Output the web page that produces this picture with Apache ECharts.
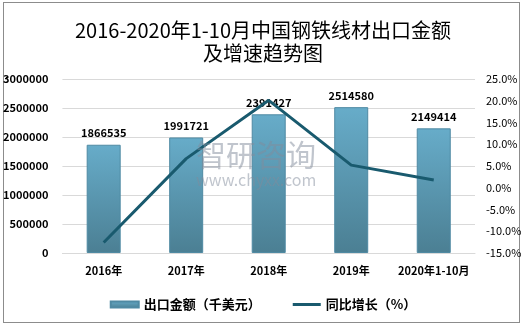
<!DOCTYPE html>
<html><head><meta charset="utf-8">
<script src="https://cdn.jsdelivr.net/npm/echarts@6/dist/echarts.min.js"></script>
<style>
html,body{margin:0;padding:0;background:#fff;}
#frame{position:absolute;left:3px;top:2px;width:515px;height:319px;border:1px solid #8c8c8c;}
#c{position:absolute;left:0;top:0;width:526px;height:329px;}
</style></head>
<body><div id="frame"></div><div id="c"></div>
<script>
const categories = ['2016年','2017年','2018年','2019年','2020年1-10月'];
const exportValues = [1866535, 1991721, 2391427, 2514580, 2149414];
const growthRates = [-12.6, 6.7, 20.1, 5.2, 1.8];
const titleText = '2016-2020年1-10月中国钢铁线材出口金额\n及增速趋势图';

const chart = echarts.init(document.getElementById('c'));
const font = '"Noto Sans CJK SC", "Noto Sans", sans-serif';
chart.setOption({
  animation:false,
  title:{text:titleText,left:'center',top:14,textStyle:{fontFamily:font,fontSize:20,fontWeight:'normal',color:'#000',lineHeight:23}},
  grid:{left:61,right:51,top:79,bottom:76,containLabel:false},
  legend:{bottom:13,left:'center',itemGap:32,itemWidth:28,itemHeight:6,
    textStyle:{fontFamily:font,fontSize:13,fontWeight:'bold',color:'#000'},
    data:[{name:'出口金额（千美元）',icon:'rect'},{name:'同比增长（%）',icon:'path://M0,0L28,0L28,3L0,3Z'}]},
  xAxis:{type:'category',data:categories,axisLine:{show:true,lineStyle:{color:'#d9d9d9'}},axisTick:{show:false},
    axisLabel:{interval:0,fontFamily:font,fontSize:11,fontWeight:'bold',color:'#000',margin:12}},
  yAxis:[
    {type:'value',min:0,max:3000000,interval:500000,splitLine:{lineStyle:{color:'#d9d9d9'}},
      axisLine:{show:false},axisTick:{show:false},
      axisLabel:{fontFamily:font,fontSize:11,fontWeight:'bold',color:'#000',margin:14,formatter:v=>String(v)}},
    {type:'value',min:-15,max:25,interval:5,splitLine:{show:false},axisLine:{show:false},axisTick:{show:false},
      axisLabel:{fontFamily:font,fontSize:11,color:'#000',margin:11,formatter:v=>v.toFixed(1)+'%'}}
  ],
  graphic:[
    {type:'text',left:196,top:140,z:100,style:{text:'智研咨询',font:'30px '+font,fill:'rgba(130,140,155,0.5)'}},
    {type:'text',left:196,top:172,z:100,style:{text:'www.chyxx.com',font:'16px '+font,fill:'rgba(130,140,155,0.5)'}}
  ],
  series:[
    {name:'出口金额（千美元）',type:'bar',data:exportValues,barWidth:34,
      itemStyle:{borderColor:'#4f8aa3',borderWidth:1,
        color:new echarts.graphic.LinearGradient(0,0,0,1,[{offset:0,color:'#67acc9'},{offset:1,color:'#4b7f93'}])},
      label:{show:true,position:'top',distance:6,fontFamily:font,fontSize:11,fontWeight:'bold',color:'#000'}},
    {name:'同比增长（%）',type:'line',yAxisIndex:1,data:growthRates,symbol:'none',
      lineStyle:{color:'#195a6e',width:3},itemStyle:{color:'#195a6e'}}
  ]
});
</script></body></html>
